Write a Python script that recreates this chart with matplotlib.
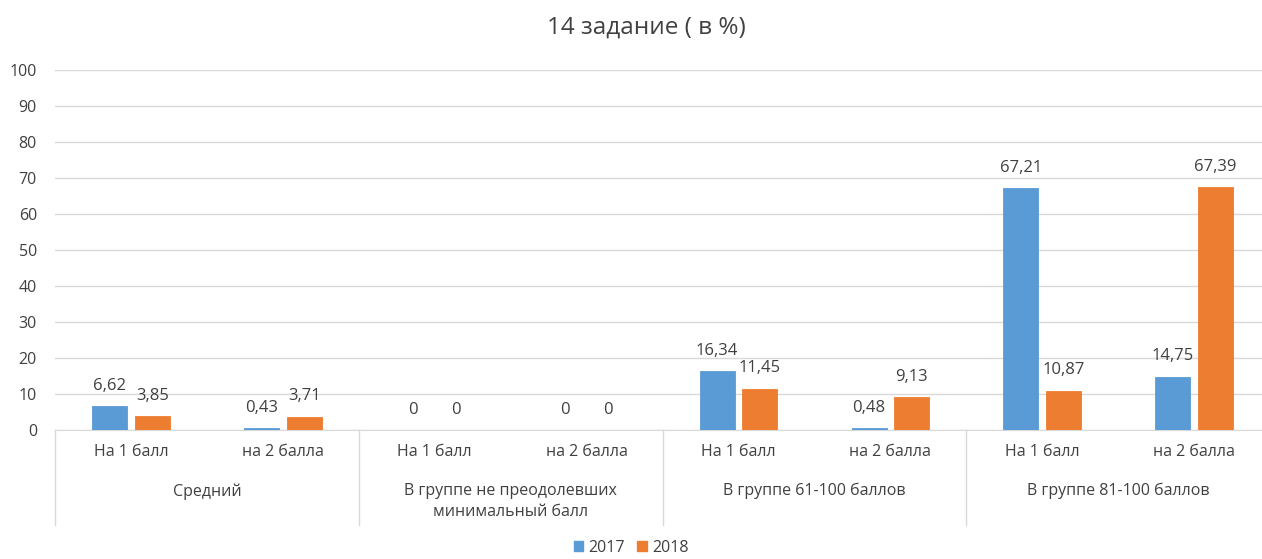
import matplotlib

matplotlib.use("Agg")

import matplotlib.pyplot as plt
from matplotlib.lines import Line2D
from matplotlib.patches import Patch
import numpy as np

plt.rcParams["font.family"] = ["Open Sans", "DejaVu Sans"]

TITLE = "14 задание ( в %)"
SUBCATS = ["На 1 балл", "на 2 балла"] * 4
GROUPS = ["Средний", "В группе не преодолевших\nминимальный балл",
          "В группе 61-100 баллов", "В группе 81-100 баллов"]
SERIES = ["2017", "2018"]
VALS_2017 = [6.62, 0.43, 0, 0, 16.34, 0.48, 67.21, 14.75]
VALS_2018 = [3.85, 3.71, 0, 0, 11.45, 9.13, 10.87, 67.39]
COLORS = ["#5b9bd5", "#ed7d31"]
TXT = "#404040"

W, H = 1262, 559
fig = plt.figure(figsize=(W / 100, H / 100), dpi=100)
ax = fig.add_axes([55 / W, (H - 430) / H, 1215 / W, 360 / H])

x = np.arange(len(SUBCATS))
bw, off = 0.23, 0.14
for vals, col, dx in zip([VALS_2017, VALS_2018], COLORS, [-off, off]):
    bars = ax.bar(x + dx, vals, bw, color=col, edgecolor=col, lw=0.6, zorder=3)
    for b, v in zip(bars, vals):
        lab = f"{v:g}".replace(".", ",")
        if v != int(v):
            lab = f"{v:.2f}".replace(".", ",")
        ax.annotate(lab, (b.get_x() + b.get_width() / 2, v), xytext=(0, 9),
                    textcoords="offset points", ha="center", va="bottom",
                    fontsize=12, color=TXT)

ax.set_xlim(-0.5, len(SUBCATS) - 0.5)
ax.set_ylim(0, 100)
ax.set_yticks(range(0, 101, 10))
ax.yaxis.grid(True, color="#d9d9d9", lw=1, zorder=0)
ax.tick_params(axis="y", length=0, pad=13, labelsize=11.5, labelcolor=TXT)
ax.set_xticks([])
for s in ["top", "right", "left"]:
    ax.spines[s].set_visible(False)
ax.spines["bottom"].set_color("#d9d9d9")

# two-level category axis drawn below the plot area
tr = ax.get_xaxis_transform()
px = 1 / 360  # one pixel in axes-height units
for i, lab in enumerate(SUBCATS):
    ax.text(i, -22 * px, lab, transform=tr, ha="center", va="center",
            fontsize=11.5, color=TXT)
for g, lab in enumerate(GROUPS):
    ax.text(2 * g + 0.5, -53 * px, lab, transform=tr, ha="center", va="top",
            fontsize=11.5, color=TXT, linespacing=1.45)
for g in range(len(GROUPS) + 1):
    ax.add_line(Line2D([2 * g - 0.5] * 2, [0, -95 * px], transform=tr,
                       color="#d9d9d9", lw=1, clip_on=False))

fig.text(646 / W, (H - 28) / H, TITLE, ha="center", va="center",
         fontsize=17.5, color=TXT)
handles = [Patch(color=c) for c in COLORS]
fig.legend(handles, SERIES, loc="center", bbox_to_anchor=(0.5, (H - 548) / H),
           ncol=2, frameon=False, fontsize=11.5, handlelength=0.6,
           handleheight=0.6, columnspacing=0.8, handletextpad=0.3,
           labelcolor=TXT)

fig.savefig("out.png", dpi=100)
